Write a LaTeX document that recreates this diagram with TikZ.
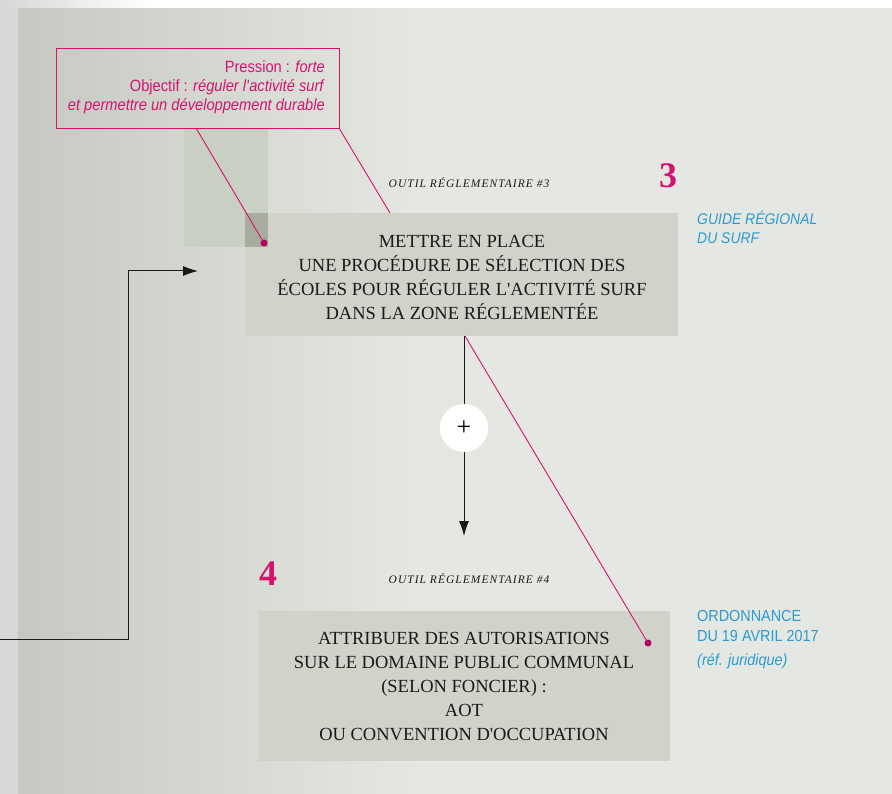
\documentclass[tikz,border=0pt]{standalone}
\usepackage{fontspec}
\setmainfont{Liberation Serif}
\newfontfamily\condsans[FakeStretch=0.9]{Liberation Sans}
\newfontfamily\tagfont[LetterSpace=9]{Liberation Serif}
\usetikzlibrary{arrows.meta}
\definecolor{bgmain}{HTML}{E5E8E2}
\definecolor{bgleft}{HTML}{C6C8C1}
\definecolor{stripc}{HTML}{D6D8D5}
\definecolor{boxc}{HTML}{D0D3CA}
\definecolor{shadec}{HTML}{C9CFC3}
\definecolor{overc}{HTML}{A8AC9F}
\definecolor{pinkc}{HTML}{D4136F}
\definecolor{dotc}{HTML}{B0005A}
\definecolor{bluec}{HTML}{2A9BD0}
\definecolor{inkc}{HTML}{1A1A1A}
\newcommand{\sq}{\textquotesingle}
\tikzset{
  toolbox/.style={fill=boxc, draw=none, inner sep=0pt, align=center, text=inkc,
    font=\fontsize{18.5}{24}\selectfont},
  pinkline/.style={draw=pinkc, line width=0.9pt},
  blackline/.style={draw=inkc, line width=1pt},
  tooltag/.style={font=\tagfont\fontsize{11.5}{12}\selectfont\itshape, text=inkc, inner sep=0pt},
  bignum/.style={font=\fontsize{36}{36}\selectfont\bfseries, text=pinkc, inner sep=0pt},
  bluetxt/.style={font=\condsans\fontsize{15.5}{19}\selectfont, text=bluec, align=left, inner sep=0pt, anchor=north west},
  pdot/.style={circle, fill=dotc, inner sep=0pt, minimum size=7pt}
}
\begin{document}
\begin{tikzpicture}[x=1pt,y=-1pt]
\useasboundingbox (0,0) rectangle (892,794);
% background
\fill[stripc] (0,0) rectangle (18,794);
\shade[left color=bgleft, right color=bgmain] (18,0) rectangle (420,794);
\fill[bgmain] (420,0) rectangle (892,794);
\fill[white] (0,0) rectangle (892,8);
\shade[left color=stripc, right color=white] (0,0) rectangle (150,8);
% shaded rectangle behind
\fill[shadec, opacity=0.9] (184,128) rectangle (268,247);
% box 1
\node[toolbox, minimum width=433pt, minimum height=123pt, anchor=north west] (b1) at (245,213) {};
\fill[overc] (245,213) rectangle (268,247);
\node[toolbox, anchor=center] (t1) at (462,277) {METTRE EN PLACE\\UNE PROCÉDURE DE SÉLECTION DES\\ÉCOLES POUR RÉGULER L\sq ACTIVITÉ SURF\\DANS LA ZONE RÉGLEMENTÉE};
% box 2
\node[toolbox, minimum width=412pt, minimum height=150pt, anchor=north west] (b2) at (258,611) {};
\node[toolbox, anchor=center] (t2) at (464,687) {ATTRIBUER DES AUTORISATIONS\\SUR LE DOMAINE PUBLIC COMMUNAL\\(SELON FONCIER) :\\AOT\\OU CONVENTION D\sq OCCUPATION};
% callout
\node[draw=pinkc, line width=0.9pt, minimum width=283pt, minimum height=80pt, anchor=north west, inner sep=0pt] (call) at (56,48) {};
\node[anchor=north east, align=right, text=pinkc, inner sep=0pt, font=\condsans\fontsize{16.3}{19}\selectfont] (calltxt) at (325,60)
  {Pression : \textit{forte}\\Objectif : \textit{réguler l\sq activité surf}\\\textit{et permettre un développement durable}};
% tags and numbers
\node[tooltag] (tag3) at (469,183) {OUTIL RÉGLEMENTAIRE \#3};
\node[tooltag] (tag4) at (469,579) {OUTIL RÉGLEMENTAIRE \#4};
\node[bignum] (n3) at (668,176) {3};
\node[bignum] (n4) at (268,574) {4};
% blue labels
\node[bluetxt] (guide) at (697,211) {\itshape GUIDE RÉGIONAL\\\itshape DU SURF};
\node[bluetxt, font=\condsans\fontsize{16}{20}\selectfont] (ordo) at (697,610) {ORDONNANCE\\DU 19 AVRIL 2017\\[4pt]\itshape (réf. juridique)};
% pink dots and lines
\node[pdot] (d1) at (264,243) {};
\node[pdot] (d2) at (648,643) {};
\coordinate (c1) at (196,128);
\coordinate (c2) at (339,128);
\coordinate (c3) at (390,213);
\coordinate (c4) at (465,336);
\draw[pinkline] (c1) -- (d1.center);
\draw[pinkline] (c2) -- (c3);
\draw[pinkline] (c4) -- (d2.center);
% vertical arrow with plus
\coordinate (a0) at (464,336);
\coordinate (a1) at (464,536);
\draw[blackline, -{Latex[length=15pt,width=10pt]}] (a0) -- (a1);
\node[circle, fill=white, minimum size=48pt, inner sep=0pt, font=\fontsize{26}{26}\selectfont] (plus) at (464,428) {+};
% left connector
\coordinate (l0) at (0,639);
\coordinate (l1) at (128,639);
\coordinate (l2) at (128,271);
\coordinate (l3) at (198,271);
\draw[blackline, -{Latex[length=15pt,width=10pt]}] (l0) -- (l1) -- (l2) -- (l3);
\end{tikzpicture}
\end{document}
